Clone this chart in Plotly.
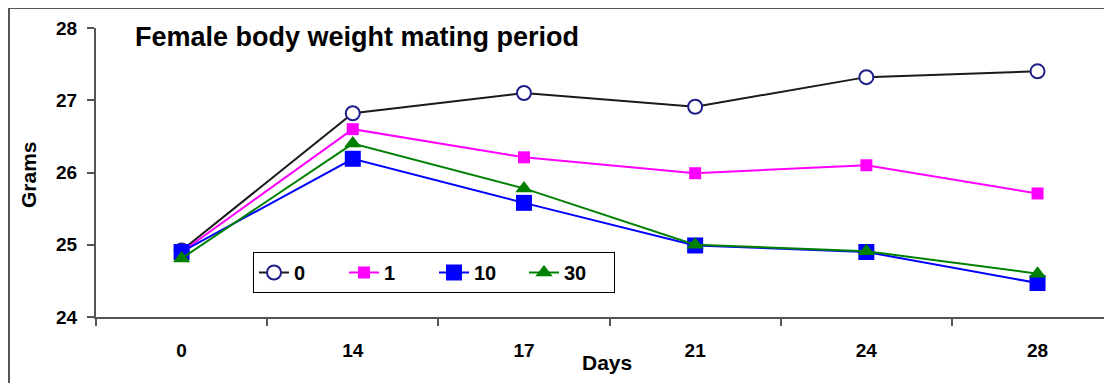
import plotly.graph_objects as go

days = ["0", "14", "17", "21", "24", "28"]
series_names = ["0", "1", "10", "30"]
g0 = [24.92, 26.82, 27.10, 26.91, 27.32, 27.40]
g1 = [24.90, 26.60, 26.21, 25.99, 26.10, 25.71]
g10 = [24.90, 26.19, 25.58, 24.99, 24.90, 24.47]
g30 = [24.81, 26.40, 25.78, 25.00, 24.91, 24.60]

FONT = "Liberation Sans, Arial, sans-serif"

# figure pixel geometry (page has an 8px body margin)
W, H = 1104, 375
L, T, B = 88, 20, 66
PW, PH = W - L, H - T - B


def px(x):
    return (x - L) / PW


def py(y):
    return (H - B - y) / PH


fig = go.Figure()
fig.add_trace(go.Scatter(
    x=days, y=g0, name=series_names[0], mode="lines+markers",
    line=dict(color="#1a1a1a", width=2),
    marker=dict(symbol="circle", size=14, color="white",
                line=dict(color="#1f1f8a", width=2))))
fig.add_trace(go.Scatter(
    x=days, y=g1, name=series_names[1], mode="lines+markers",
    line=dict(color="#ff00ff", width=2),
    marker=dict(symbol="square", size=12, color="#ff00ff")))
fig.add_trace(go.Scatter(
    x=days, y=g10, name=series_names[2], mode="lines+markers",
    line=dict(color="#0000ff", width=2),
    marker=dict(symbol="square", size=16, color="#0000ff")))
fig.add_trace(go.Scatter(
    x=days, y=g30, name=series_names[3], mode="lines+markers",
    line=dict(color="#008000", width=2),
    marker=dict(symbol="triangle-up", size=15, color="#008000")))

fig.update_layout(
    width=W, height=H,
    margin=dict(l=L, r=0, t=T, b=B),
    paper_bgcolor="white", plot_bgcolor="white",
    font=dict(family=FONT, color="black", size=19),
    showlegend=True,
    legend=dict(
        orientation="h", x=px(245), y=py(244), xanchor="left", yanchor="top",
        bordercolor="black", borderwidth=1, bgcolor="white",
        font=dict(family=FONT, size=20, weight="bold"),
        entrywidth=45, entrywidthmode="pixels", itemwidth=30,
    ),
)

fig.update_xaxes(
    type="category", range=[-0.5, 5.435],
    showline=True, linecolor="#555555", linewidth=2,
    ticks="outside", tickson="boundaries", ticklen=7, tickcolor="#555555", tickwidth=2,
    showgrid=False, zeroline=False,
    tickfont=dict(family=FONT, size=19, weight="bold"),
    ticklabelstandoff=15,
)
fig.update_yaxes(
    range=[24, 28], dtick=1, tick0=24,
    showline=True, linecolor="#555555", linewidth=2,
    ticks="outside", ticklen=7, tickcolor="#555555", tickwidth=2,
    showgrid=False, zeroline=False,
    tickfont=dict(family=FONT, size=19, weight="bold"),
    ticklabelstandoff=6,
)

# Outer chart frame
fig.add_shape(type="rect", xref="paper", yref="paper",
              x0=px(1), x1=px(W + 20), y0=py(H + 20), y1=py(0),
              line=dict(color="#555555", width=2), fillcolor="rgba(0,0,0,0)", layer="below")

fig.add_annotation(text="Female body weight mating period", xref="paper", yref="paper",
                   x=px(125), y=py(29.5), xanchor="left", yanchor="middle", showarrow=False,
                   font=dict(family=FONT, size=27, weight="bold"))
fig.add_annotation(text="Days", xref="paper", yref="paper",
                   x=px(598.7), y=py(354), xanchor="center", yanchor="middle",
                   showarrow=False, font=dict(family=FONT, size=21, weight="bold"))
fig.add_annotation(text="Grams", xref="paper", yref="paper",
                   x=px(20), y=py(167), xanchor="center", yanchor="middle",
                   textangle=-90, showarrow=False, font=dict(family=FONT, size=21, weight="bold"))

fig.write_html("out.html")
